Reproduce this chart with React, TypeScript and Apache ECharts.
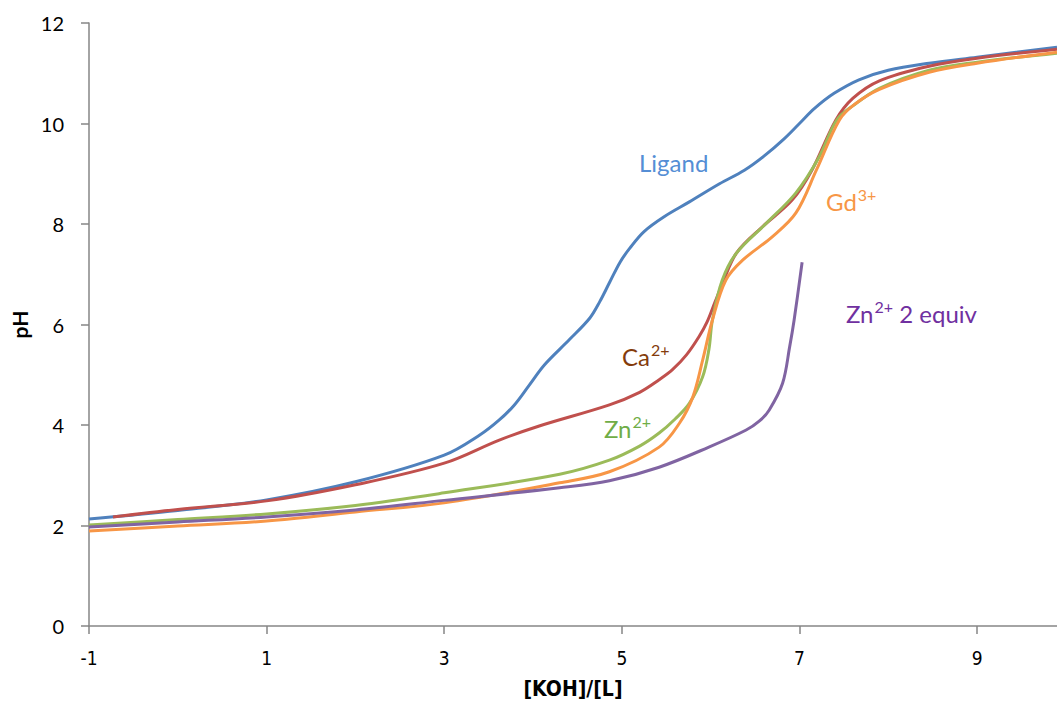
import React, { useEffect, useRef } from "react";
import * as echarts from "echarts";

const xTicks = { min: -1, max: 9.9, interval: 2 };
const yTicks = { min: 0, max: 12, interval: 2 };

const ligand: [number, number][] = [
  [-1, 2.13], [0, 2.3], [1, 2.51], [2, 2.87], [3, 3.4], [3.4, 3.8], [3.62, 4.1],
  [3.79, 4.4], [3.96, 4.8], [4.13, 5.2], [4.41, 5.7], [4.64, 6.13], [4.75, 6.45], [4.86, 6.83],
  [4.98, 7.24], [5.09, 7.52], [5.25, 7.85], [5.48, 8.15], [5.76, 8.44], [6.1, 8.8], [6.38, 9.07],
  [6.6, 9.35], [6.83, 9.7], [7.0, 10.0], [7.17, 10.3], [7.39, 10.6], [7.67, 10.87], [8.0, 11.06],
  [8.46, 11.2], [9.0, 11.32], [9.9, 11.52],
];

const calcium: [number, number][] = [
  [-0.73, 2.17], [0, 2.32], [1, 2.49], [2, 2.81], [3, 3.24], [3.62, 3.7], [4.07, 3.98],
  [4.86, 4.4], [5.2, 4.65], [5.42, 4.9], [5.57, 5.1], [5.73, 5.4], [5.87, 5.76], [5.96, 6.05],
  [6.05, 6.45], [6.13, 6.8], [6.29, 7.42], [6.58, 7.94], [6.92, 8.48], [7.14, 9.07], [7.41, 10.07],
  [7.6, 10.5], [7.9, 10.85], [8.46, 11.14], [9.0, 11.3], [9.9, 11.48],
];

const zinc: [number, number][] = [
  [-1, 2.01], [0, 2.12], [1, 2.23], [2, 2.4], [3, 2.65], [4.3, 3.02], [4.86, 3.3],
  [5.2, 3.58], [5.42, 3.84], [5.6, 4.12], [5.76, 4.43], [5.91, 4.96], [5.98, 5.5], [6.02, 6.09],
  [6.13, 6.88], [6.29, 7.42], [6.63, 8.02], [6.96, 8.62], [7.22, 9.33], [7.42, 10.07], [7.6, 10.35],
  [7.9, 10.7], [8.46, 11.06], [9.0, 11.22], [9.9, 11.4],
];

const gadolinium: [number, number][] = [
  [-1, 1.89], [0, 1.99], [1, 2.09], [2, 2.27], [3, 2.45], [4.3, 2.85], [4.86, 3.07],
  [5.42, 3.56], [5.65, 4.04], [5.8, 4.56], [5.91, 5.29], [6.02, 6.09], [6.17, 6.88], [6.36, 7.28],
  [6.69, 7.74], [6.96, 8.22], [7.19, 9.07], [7.45, 10.07], [7.62, 10.38], [7.9, 10.68], [8.46, 11.02],
  [9.0, 11.2], [9.9, 11.42],
];

const zinc2equiv: [number, number][] = [
  [-1, 1.97], [0, 2.07], [1, 2.17], [2, 2.31], [3, 2.5], [4.3, 2.75], [4.86, 2.89],
  [5.42, 3.16], [5.98, 3.56], [6.4, 3.9], [6.55, 4.08], [6.66, 4.3], [6.81, 4.83],
  [6.89, 5.56], [6.94, 6.09], [7.03, 7.24],
];

const seriesNames = ["Ligand", "Ca2+", "Zn2+", "Gd3+", "Zn2+ 2 equiv"];
const seriesColors = ["#4F81BD", "#C0504D", "#9BBB59", "#F79646", "#8064A2"];

const FONT = "Lato, 'Open Sans', sans-serif";
const NARROW = "'Liberation Sans Narrow', 'DejaVu Sans Condensed', Lato, sans-serif";

function label(left: number, top: number, base: string, sup: string, rest: string, color: string) {
  const parts = `{a|${base}}` + (sup ? `{s|${sup}}` : "") + (rest ? `{a|${rest}}` : "");
  return {
    type: "text",
    left,
    top,
    style: {
      text: parts,
      fill: color,
      rich: {
        a: { fontSize: 24, lineHeight: 30, fontFamily: FONT, fill: color, verticalAlign: "bottom" },
        s: { fontSize: 16, lineHeight: 30, fontFamily: FONT, fill: color, verticalAlign: "top", padding: [3, 0, 0, 1] },
      },
    },
  };
}

export default function App() {
  const ref = useRef<HTMLDivElement>(null);
  useEffect(() => {
    if (!ref.current) return;
    const chart = echarts.init(ref.current, undefined, { renderer: "svg" });
    const datasets = [ligand, calcium, zinc, gadolinium, zinc2equiv];
    chart.setOption({
      animation: false,
      grid: { left: 89, right: 0, top: 23, bottom: 80, containLabel: false },
      xAxis: {
        type: "value",
        min: xTicks.min,
        max: xTicks.max,
        interval: xTicks.interval,
        name: "[KOH]/[L]",
        nameLocation: "middle",
        nameGap: 52,
        nameTextStyle: { fontSize: 21, fontWeight: "bold", color: "#000", fontFamily: NARROW },
        axisLine: { show: true, onZero: false, lineStyle: { color: "#868686", width: 1.5 } },
        axisTick: { show: true, length: 8, lineStyle: { color: "#868686", width: 1.5 } },
        axisLabel: {
          margin: 22,
          fontSize: 19,
          color: "#000",
          fontFamily: NARROW,
          showMaxLabel: false,
        },
        splitLine: { show: false },
      },
      yAxis: {
        type: "value",
        min: yTicks.min,
        max: yTicks.max,
        interval: yTicks.interval,
        name: "pH",
        nameLocation: "middle",
        nameGap: 57,
        nameTextStyle: { fontSize: 21, fontWeight: "bold", color: "#000", fontFamily: FONT },
        axisLine: { show: true, onZero: false, lineStyle: { color: "#868686", width: 1.5 } },
        axisTick: { show: true, length: 8, lineStyle: { color: "#868686", width: 1.5 } },
        axisLabel: { margin: 25, fontSize: 20, color: "#000", fontFamily: FONT },
        splitLine: { show: false },
      },
      series: datasets.map((d, i) => ({
        name: seriesNames[i],
        type: "line",
        data: d,
        showSymbol: false,
        smooth: 0.35,
        lineStyle: { width: 3, color: seriesColors[i] },
        itemStyle: { color: seriesColors[i] },
        z: 2 + i,
      })),
      graphic: [
        label(639, 150, "Ligand", "", "", "#558ED5"),
        label(826, 183, "Gd", "3+", "", "#F79646"),
        label(846, 295, "Zn", "2+", " 2 equiv", "#7030A0"),
        label(622, 338, "Ca", "2+", "", "#843C0C"),
        label(604, 410, "Zn", "2+", "", "#70AD47"),
      ],
    });
    return () => chart.dispose();
  }, []);
  return (
    <div
      ref={ref}
      style={{ position: "absolute", left: 0, top: 0, width: 1057, height: 706 }}
    />
  );
}
